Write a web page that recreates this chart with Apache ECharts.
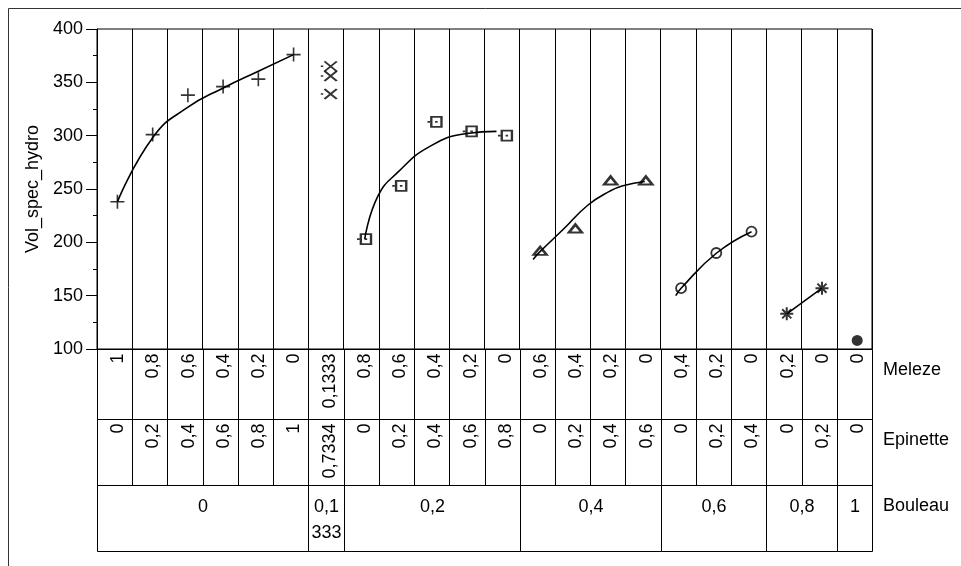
<!DOCTYPE html>
<html>
<head>
<meta charset="utf-8">
<script src="https://cdn.jsdelivr.net/npm/echarts@6/dist/echarts.min.js"></script>
<style>
html, body { margin: 0; padding: 0; background: #fff; }
#chart { width: 961px; height: 566px; }
</style>
</head>
<body>
<div id="chart"></div>
<script>
// Mixture levels, one entry per column
const melezeLabels = ['1', '0,8', '0,6', '0,4', '0,2', '0', '0,1333', '0,8', '0,6', '0,4', '0,2', '0',
  '0,6', '0,4', '0,2', '0', '0,4', '0,2', '0', '0,2', '0', '0'];
const epinetteLabels = ['0', '0,2', '0,4', '0,6', '0,8', '1', '0,7334', '0', '0,2', '0,4', '0,6', '0,8',
  '0', '0,2', '0,4', '0,6', '0', '0,2', '0,4', '0', '0,2', '0'];
// Bouleau levels and how many columns each one spans
const bouleauLabels = ['0', '0,1333', '0,2', '0,4', '0,6', '0,8', '1'];
const bouleauSpans = [6, 1, 5, 4, 3, 2, 1];
const rowNames = ['Meleze', 'Epinette', 'Bouleau'];

// Vol_spec_hydro observations within each Bouleau group
const volB0 = [238, 301, 338, 346, 353, 376];
const volB01333 = [365, 356, 339];
const volB02 = [203, 253, 313, 304, 300];
const volB04 = [192, 213, 258, 258];
const volB06 = [157, 190, 210];
const volB08 = [133, 157];
const volB1 = [108];

// Smoothed fit per Bouleau group: [column offset inside the group, Vol_spec_hydro]
const fitB0 = [[0.58, 238], [1.6, 299], [2.55, 326], [3.6, 345], [4.55, 360], [5.58, 376]];
const fitB02 = [[0.6, 203], [0.97, 243], [1.55, 266], [2.45, 290], [3.5, 302], [4.34, 304]];
const fitB04 = [[0.38, 184], [0.57, 191], [1.23, 212], [1.94, 235], [2.56, 248], [2.93, 253], [3.55, 257]];
const fitB06 = [[0.43, 150], [0.58, 157], [1.59, 190], [2.58, 210]];
const fitB08 = [[0.58, 133], [1.58, 157]];

const yMin = 100, yMax = 400, yStep = 50;

// first column of each Bouleau group
const groupStart = [];
bouleauSpans.reduce((acc, n) => { groupStart.push(acc); return acc + n; }, 0);
const nCols = melezeLabels.length;
const markPos = 0.58; // where a mark sits across its column

function colPoints(g, vals) {
  return vals.map((v, k) => [groupStart[g] + k + markPos, v]);
}
function sameColPoints(g, vals) {
  return vals.map(v => [groupStart[g] + markPos, v]);
}
function fitPoints(g, pairs) {
  return pairs.map(p => [groupStart[g] + p[0], p[1]]);
}

const FONT = '"Liberation Sans", Arial, sans-serif';
const FS = 18;
const INK = '#000';

const L = 97, W = 775;
const plotTop = 29, plotH = 320;
const rowTops = [349, 419, 485];
const rowHs = [70, 66, 66];

const grids = [{ left: L, top: plotTop, width: W, height: plotH, show: true, borderColor: INK, borderWidth: 1 }];
rowTops.forEach((t, i) => grids.push({ left: L, top: t, width: W, height: rowHs[i], show: false }));

const xAxes = [{
  gridIndex: 0, type: 'value', min: 0, max: nCols, interval: 1,
  axisLine: { show: true, lineStyle: { color: INK, width: 1 } },
  axisTick: { show: false }, axisLabel: { show: false },
  splitLine: { show: true, lineStyle: { color: INK, width: 1 } }
}];
const yAxes = [{
  gridIndex: 0, type: 'value', min: yMin, max: yMax, interval: yStep,
  name: 'Vol_spec_hydro', nameLocation: 'middle', nameGap: 50, nameRotate: 90,
  nameTextStyle: { color: INK, fontSize: FS, fontFamily: FONT },
  axisLine: { show: true, lineStyle: { color: INK, width: 1 } },
  axisTick: { show: true, length: 11, lineStyle: { color: INK } },
  minorTick: { show: true, splitNumber: 2, length: 4, lineStyle: { color: INK } },
  axisLabel: { color: INK, fontSize: FS, fontFamily: FONT, margin: 14 },
  splitLine: { show: false }
}];
for (let i = 1; i <= 3; i++) {
  xAxes.push({ gridIndex: i, type: 'value', min: 0, max: nCols, show: false });
  yAxes.push({ gridIndex: i, type: 'value', min: 0, max: 1, show: false });
}

// table rows drawn as cells on their own grids
function cellRenderer(labels, rotated) {
  return function (params, api) {
    const a = api.value(0), b = api.value(1);
    const text = labels[params.dataIndex];
    const p0 = api.coord([a, 1]);
    const p1 = api.coord([b, 0]);
    const x0 = Math.round(p0[0]) + 0.5, x1 = Math.round(p1[0]) + 0.5;
    const y0 = Math.round(p0[1]) + 0.5, y1 = Math.round(p1[1]) + 0.5;
    const children = [{
      type: 'rect',
      shape: { x: x0, y: y0, width: x1 - x0, height: y1 - y0 },
      style: { fill: 'transparent', stroke: INK, lineWidth: 1 }
    }];
    if (rotated) {
      children.push({
        type: 'text', x: (x0 + x1) / 2 + 3.5, y: y0 + 4, rotation: Math.PI / 2,
        style: { text: text, fill: INK, fontSize: FS, fontFamily: FONT, align: 'right', verticalAlign: 'middle' }
      });
    } else {
      children.push({
        type: 'text', x: (x0 + x1) / 2, y: y0 + 9,
        style: { text: text, fill: INK, fontSize: FS, fontFamily: FONT, align: 'center', verticalAlign: 'top',
          width: x1 - x0 - 4, overflow: 'breakAll', lineHeight: 26 }
      });
    }
    return { type: 'group', children: children };
  };
}

const melezeCells = melezeLabels.map((t, i) => [i, i + 1]);
const epinetteCells = epinetteLabels.map((t, i) => [i, i + 1]);
const bouleauCells = bouleauLabels.map((t, g) => [groupStart[g], groupStart[g] + bouleauSpans[g]]);

function tableSeries(idx, data, labels, rotated) {
  return {
    type: 'custom', xAxisIndex: idx, yAxisIndex: idx, silent: true,
    encode: { x: [0, 1] }, renderItem: cellRenderer(labels, rotated), data: data
  };
}

function fitLine(g, pairs) {
  return {
    type: 'line', xAxisIndex: 0, yAxisIndex: 0, data: fitPoints(g, pairs),
    smooth: 0.5, showSymbol: false, silent: true, z: 3,
    lineStyle: { color: INK, width: 1.6 }
  };
}

const hollow = { color: 'transparent', borderColor: INK, borderWidth: 1.6 };
function marks(data, symbol, size, style) {
  return {
    type: 'scatter', xAxisIndex: 0, yAxisIndex: 0, data: data, symbol: symbol, symbolSize: size,
    itemStyle: style || hollow, silent: true, z: 5
  };
}

const PLUS = 'path://M0,5H10M5,0V10';
const CROSS = 'path://M0,4H2M3,0L13,8M13,0L3,8';
const STAR = 'path://M5,0V10M0,5H10M1.5,1.5L8.5,8.5M8.5,1.5L1.5,8.5';
const BOX = 'path://M0,5H2M3,1H11V9H3ZM6,5H8';

const series = [
  tableSeries(1, melezeCells, melezeLabels, true),
  tableSeries(2, epinetteCells, epinetteLabels, true),
  tableSeries(3, bouleauCells, bouleauLabels, false),
  fitLine(0, fitB0),
  fitLine(2, fitB02),
  fitLine(3, fitB04),
  fitLine(4, fitB06),
  fitLine(5, fitB08),
  marks(colPoints(0, volB0), PLUS, 14),
  marks(sameColPoints(1, volB01333), CROSS, [16, 10], { color: 'transparent', borderColor: INK, borderWidth: 1.9 }),
  marks(colPoints(2, volB02), BOX, [14, 10], { color: 'transparent', borderColor: INK, borderWidth: 2 }),
  marks(colPoints(3, volB04), 'triangle', [13, 8], { color: 'transparent', borderColor: INK, borderWidth: 2.4 }),
  marks(colPoints(4, volB06), 'circle', 10, { color: 'transparent', borderColor: INK, borderWidth: 1.8 }),
  marks(colPoints(5, volB08), STAR, 13, { color: 'transparent', borderColor: INK, borderWidth: 2 }),
  marks(colPoints(6, volB1), 'circle', 11, { color: INK })
];

const graphic = [{
  type: 'rect', silent: true,
  shape: { x: 8.5, y: 8.5, width: 1000, height: 600 },
  style: { fill: 'transparent', stroke: '#333', lineWidth: 1 }
}];
rowNames.forEach((n, i) => graphic.push({
  type: 'text', silent: true, x: 883, y: rowTops[i] + 21,
  style: { text: n, fill: INK, fontSize: FS, fontFamily: FONT, align: 'left', verticalAlign: 'middle' }
}));

const chart = echarts.init(document.getElementById('chart'), null, { renderer: 'canvas' });
chart.setOption({
  animation: false,
  backgroundColor: '#fff',
  grid: grids,
  xAxis: xAxes,
  yAxis: yAxes,
  series: series,
  graphic: graphic
});
</script>
</body>
</html>
